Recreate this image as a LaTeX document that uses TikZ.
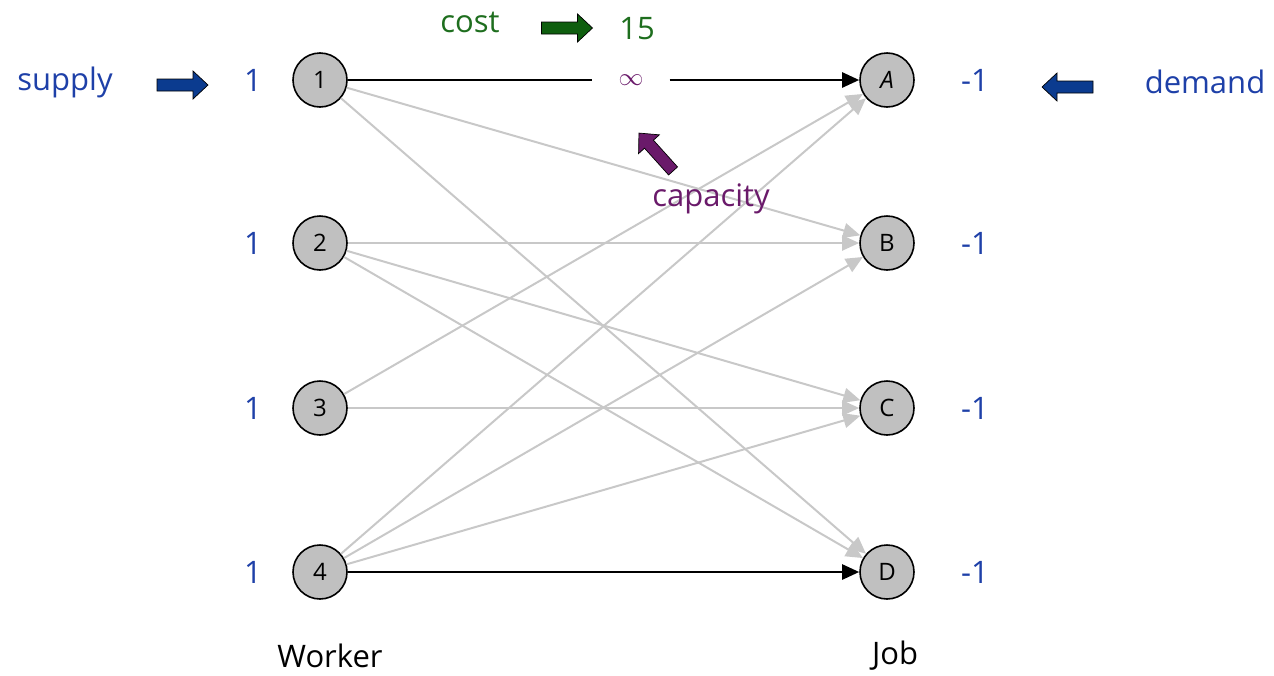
\documentclass[tikz,border=0pt]{standalone}
\usepackage{fontspec}
\setmainfont{Open Sans}
\usetikzlibrary{arrows.meta}
\definecolor{txtblue}{HTML}{1E40A8}
\definecolor{arrblue}{HTML}{0B3B8F}
\definecolor{txtgreen}{HTML}{1E6E1E}
\definecolor{arrgreen}{HTML}{0E5E0E}
\definecolor{purp}{HTML}{6A1A6A}
\definecolor{edgegray}{HTML}{C8C8C8}
\definecolor{nodegray}{HTML}{C0C0C0}
\begin{document}
\begin{tikzpicture}[x=1pt,y=-1pt,
  vert/.style={circle,draw=black,line width=1.6pt,fill=nodegray,minimum size=54pt,inner sep=0pt,font=\fontsize{24}{26}\selectfont},
  lab/.style={font=\fontsize{31}{34}\selectfont},
  gedge/.style={draw=edgegray,line width=2pt,-{Triangle[length=17pt,width=15pt]}},
  bedge/.style={draw=black,line width=2.5pt,-{Triangle[length=17pt,width=15pt]}},
  blockarrow/.pic={\draw[line width=0.7pt,pic actions] (-25.5,-6) -- (10.5,-6) -- (10.5,-14) -- (25.5,0) -- (10.5,14) -- (10.5,6) -- (-25.5,6) -- cycle;}
]
\useasboundingbox (0,0) rectangle (1274,675);
% vertices
\node[vert] (w1) at (320,80) {1};
\node[vert] (w2) at (320,243) {2};
\node[vert] (w3) at (320,408) {3};
\node[vert] (w4) at (320,572) {4};
\node[vert] (jA) at (887,80) {\itshape A};
\node[vert] (jB) at (887,243) {B};
\node[vert] (jC) at (887,408) {C};
\node[vert] (jD) at (887,572) {D};
% supply / demand numbers
\foreach \n/\y in {1/80,2/243,3/408,4/572}{
  \node[lab,text=txtblue] (s\n) at (253,\y) {1};
}
\foreach \n/\y in {A/80,B/243,C/408,D/572}{
  \node[lab,text=txtblue] (d\n) at (975,\y) {-1};
}
% gray edges
\draw[gedge] (w1) -- (jB);
\draw[gedge] (w1) -- (jD);
\draw[gedge] (w2) -- (jB);
\draw[gedge] (w2) -- (jC);
\draw[gedge] (w2) -- (jD);
\draw[gedge] (w3) -- (jA);
\draw[gedge] (w3) -- (jC);
\draw[gedge] (w4) -- (jA);
\draw[gedge] (w4) -- (jB);
\draw[gedge] (w4) -- (jC);
% black edges
\node[inner sep=0pt,minimum width=77pt,minimum height=20pt,text=purp,font=\fontsize{28}{30}\selectfont] (inf) at (631,80) {$\infty$};
\draw[black,line width=2.5pt] (w1) -- (inf);
\draw[bedge] (inf) -- (jA);
\draw[bedge] (w4) -- (jD);
% labels
\node[lab,text=txtblue] (supply) at (65,82) {supply};
\pic[fill=arrblue] at (182.5,85) {blockarrow};
\node[lab,text=txtblue] (demand) at (1205,82) {demand};
\pic[fill=arrblue,rotate=180] at (1067.5,87) {blockarrow};
\node[lab,text=txtgreen] (cost) at (470,22) {cost};
\pic[fill=arrgreen] at (567,28) {blockarrow};
\node[lab,text=txtgreen] (cval) at (637,29) {15};
\pic[fill=purp,rotate=132] at (656,152) {blockarrow};
\node[lab,text=purp] (cap) at (711,199) {capacity};
\node[lab] (worker) at (330,656) {Worker};
\node[lab] (job) at (895,656) {Job};
\end{tikzpicture}
\end{document}
